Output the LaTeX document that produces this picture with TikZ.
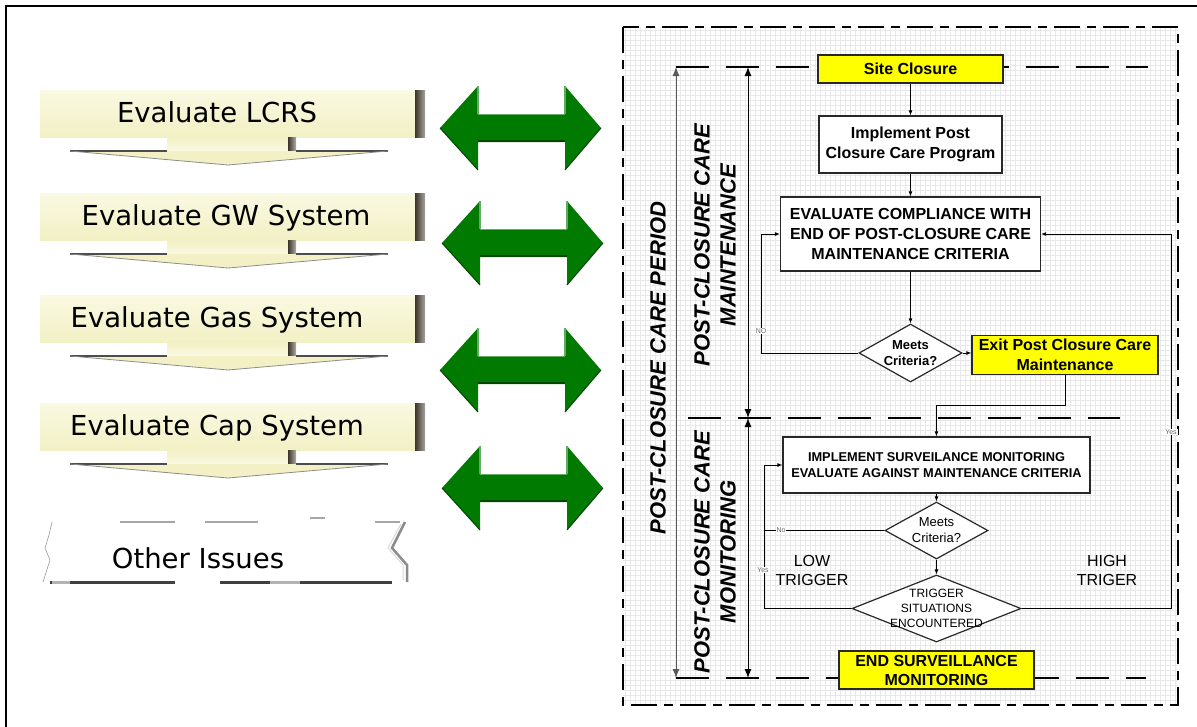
\documentclass[tikz,border=0pt]{standalone}
\usepackage{fontspec}
\setmainfont{Liberation Sans}
\newfontfamily\tahfont{DejaVu Sans}
\usetikzlibrary{arrows.meta,shapes.geometric,calc}
\newcommand\setfs[2]{\fontsize{#1}{#2}\selectfont}
\definecolor{gr}{RGB}{0,122,0}
\definecolor{grdark}{RGB}{0,70,0}
\definecolor{grlight}{RGB}{100,170,100}
\definecolor{pale}{RGB}{242,240,196}
\definecolor{paletop}{RGB}{250,249,226}
\definecolor{strip}{RGB}{60,52,40}
\definecolor{yel}{RGB}{255,255,0}
\definecolor{edge}{RGB}{40,40,40}
\begin{document}
\begin{tikzpicture}[x=1pt,y=-1pt,
  fbox/.style={draw=edge,line width=1.2pt,fill=white,align=center,inner sep=0pt,font=\bfseries\setfs{16}{20}},
  ybox/.style={fbox,fill=yel},
  dia/.style={draw=edge,line width=1.2pt,fill=white,diamond,inner sep=0pt},
  arr/.style={draw=black,line width=0.9pt,-{Latex[length=5pt,width=4pt]}},
  ln/.style={draw=black,line width=0.9pt},
  hdash/.style={line width=2pt,dash pattern=on 33pt off 17pt},
  vline/.style={line width=1pt,{Latex[length=9pt,width=7pt]}-{Latex[length=9pt,width=7pt]}},
  tinylab/.style={font=\setfs{7}{8},text=black!60,fill=white,inner sep=1pt},
  banner/.style={font=\tahfont\setfs{27.5}{30},anchor=base},
  gridc/.style={draw=black!9,line width=0.4pt},
  rot/.style={rotate=90,align=center,font=\bfseries\itshape\setfs{22}{26}},
]
\useasboundingbox (0,0) rectangle (1197,726);
% outer frame
\draw[line width=2pt] (6,730) -- (6,6) -- (1200,6);

% ---------- left banners ----------
\foreach \T/\tx/\lab/\nm in {90/217/Evaluate LCRS/b1, 193/226/Evaluate GW System/b2, 295/217/Evaluate Gas System/b3, 403/217/Evaluate Cap System/b4} {
  \shade[top color=paletop,bottom color=pale] (40,\T) rectangle (415,\T+47);
  \shade[left color=strip,right color=strip!45!white] (415,\T) rectangle (425,\T+47);
  \shade[top color=pale,bottom color=paletop] (167,\T+47) rectangle (288,\T+61);
  \shade[left color=strip,right color=strip!40!white] (288,\T+47) rectangle (296,\T+61);
  \fill[pale] (70,\T+61) -- (388,\T+61) -- (228,\T+75) -- cycle;
  \draw[black!70,line width=1.5pt] (70,\T+61) -- (167,\T+61) (296,\T+61) -- (388,\T+61);
  \draw[black!45,line width=0.8pt] (70,\T+61) -- (228,\T+75) -- (388,\T+61);
  \node[banner] (\nm) at (\tx,\T+32) {\lab};
}
% Other issues
\fill[white] (52,522) -- (405,522) -- (392,548) -- (407,565) -- (407,582) -- (43,582) -- (50,560) -- (45,548) -- (49,535) -- cycle;
\draw[black!40,line width=0.6pt] (52,522) -- (49,535) -- (45,548) -- (50,560) -- (43,582);
\draw[black!45,line width=2.5pt] (405,522) -- (392,548) -- (407,565) -- (407,582);
\draw[black!15,line width=1pt] (401,524) -- (388,548) -- (403,565) -- (403,580);
\draw[black!35,line width=1.5pt] (120,522)--(175,522) (205,522)--(258,522) (310,518)--(325,518) (375,522)--(400,522);
\draw[black!75,line width=3pt] (50,582)--(175,582) (220,582)--(392,582);
\draw[black!30,line width=3pt] (52,582)--(70,582) (270,582)--(300,582);
\node[banner] (b5) at (198,568) {Other Issues};

% ---------- green double arrows ----------
\foreach \cy/\dx in {128/0,243/2,370/0,488/2} {
  \fill[gr] (440+\dx,\cy) -- (478+\dx,\cy-42) -- (478+\dx,\cy-14) -- (565+\dx,\cy-14) -- (565+\dx,\cy-42) -- (601+\dx,\cy) -- (565+\dx,\cy+42) -- (565+\dx,\cy+14) -- (478+\dx,\cy+14) -- (478+\dx,\cy+42) -- cycle;
  \draw[grdark,line width=2pt] (478+\dx,\cy+13) -- (565+\dx,\cy+13);
  \draw[grlight,line width=1pt] (478+\dx,\cy-13.5) -- (565+\dx,\cy-13.5);
  \draw[grlight,line width=1.5pt] (478+\dx,\cy-42) -- (478+\dx,\cy-14) (565+\dx,\cy-42) -- (565+\dx,\cy-14);
  \draw[grdark,line width=1pt] (440+\dx,\cy) -- (478+\dx,\cy+42) (601+\dx,\cy) -- (565+\dx,\cy+42);
}

% ---------- right panel ----------
\fill[white] (623,27) rectangle (1178,705);
\foreach \gx in {625,630,...,1175} \draw[gridc] (\gx,27) -- (\gx,705);
\foreach \gy in {30,35,...,700} \draw[gridc] (623,\gy) -- (1178,\gy);
\draw[line width=2pt,dash pattern=on 26pt off 7pt on 9pt off 7pt] (623,27) rectangle (1178,705);

\draw[hdash] (676,67) -- (1148,67);
\draw[hdash] (688,418) -- (1120,418);
\draw[hdash] (676,678) -- (1146,678);

\draw[vline,draw=black!65] (676,67) -- (676,678);
\draw[vline] (748,67) -- (748,418);
\draw[vline] (748,418) -- (748,678);

\node[rot] (period) at (658,368) {POST-CLOSURE CARE PERIOD};
\node[rot] (maint) at (715,245) {POST-CLOSURE CARE\\MAINTENANCE};
\node[rot] (monit) at (715,552) {POST-CLOSURE CARE\\MONITORING};

\node[ybox,minimum width=185,minimum height=28] (site) at (910.5,69) {Site Closure};
\node[fbox,minimum width=183,minimum height=57] (impl) at (910.5,144.5) {Implement Post\\Closure Care Program};
\node[fbox,minimum width=260,minimum height=74] (eval) at (910.5,234) {EVALUATE COMPLIANCE WITH\\END OF POST-CLOSURE CARE\\MAINTENANCE CRITERIA};
\node[dia,minimum width=103,minimum height=58] (d1) at (910.5,353) {};
\node[font=\bfseries\setfs{13}{16},align=center] (d1t) at (d1) {Meets\\Criteria?};
\node[ybox,minimum width=186,minimum height=39] (exit) at (1065,355) {Exit Post Closure Care\\Maintenance};
\node[fbox,minimum width=307,minimum height=56,font=\bfseries\setfs{12.8}{16}] (surv) at (936.5,465) {IMPLEMENT SURVEILANCE MONITORING\\EVALUATE AGAINST MAINTENANCE CRITERIA};
\node[dia,minimum width=103,minimum height=57] (d2) at (936.5,530.5) {};
\node[font=\setfs{13}{16},align=center] (d2t) at (d2) {Meets\\Criteria?};
\node[dia,minimum width=169,minimum height=67] (d3) at (936.5,608.5) {};
\node[font=\setfs{12}{15},align=center] (d3t) at (d3) {TRIGGER\\SITUATIONS\\ENCOUNTERED};
\node[ybox,minimum width=195,minimum height=38,font=\bfseries\setfs{16}{19}] (end) at (936.5,670) {END SURVEILLANCE\\MONITORING};

\node[font=\setfs{16}{19},align=center] (low) at (812,570) {LOW\\TRIGGER};
\node[font=\setfs{16}{19},align=center] (high) at (1107,570) {HIGH\\TRIGER};

\coordinate (nol) at (761,234);
\coordinate (nol2) at (764,465);
\coordinate (yesr) at (1171,234);

\draw[arr] (site) -- (impl);
\draw[arr] (impl) -- (eval);
\draw[arr] (eval) -- (d1);
\draw[arr] (d1.east) -- (exit.west |- d1.east);
\draw[arr] (d1.west) -| (nol) -- (eval.west);
\draw[arr] (exit.south) -- ++(0,30) -| (surv.north);
\draw[arr] (surv) -- (d2);
\draw[arr] (d2) -- (d3);
\draw[arr] (d2.west) -| (nol2) -- (surv.west);
\draw[ln] (d3.west) -| (nol2 |- d2.west);
\draw[arr] (d3.east) -| (yesr) -- (eval.east);

\node[tinylab] (lno) at (761,331) {NO};
\node[tinylab] (lno2) at (781,530) {No};
\node[tinylab] (lyes1) at (1171,432) {Yes};
\node[tinylab] (lyes2) at (763,570) {Yes};
\end{tikzpicture}
\end{document}
